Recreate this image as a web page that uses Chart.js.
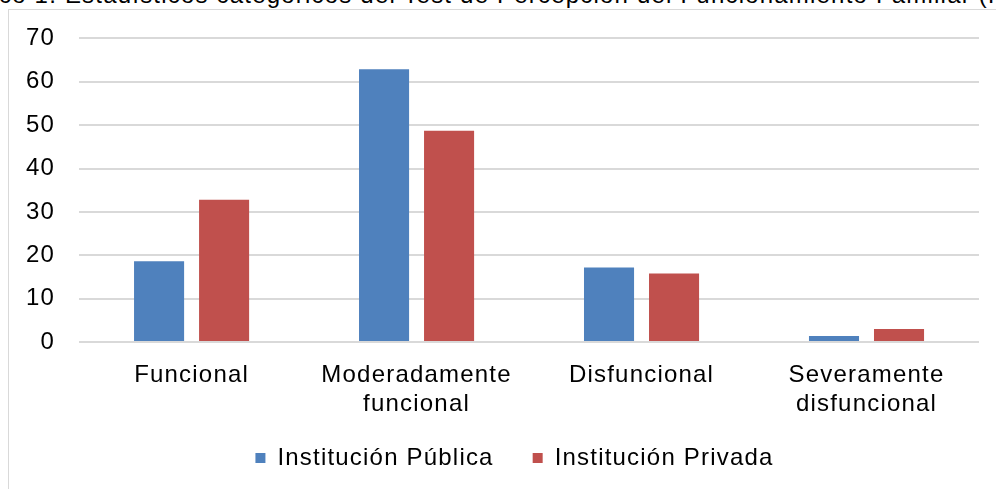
<!DOCTYPE html>
<html>
<head>
<meta charset="utf-8">
<script src="https://cdn.jsdelivr.net/npm/chart.js@4"></script>
<style>
  body { margin: 0; background: #fff; overflow: hidden; }
  #caption {
    position: absolute; left: -59px; top: -17px; white-space: nowrap;
    font: 24px "Liberation Sans", Arial, sans-serif; letter-spacing: 1.2px;
    color: #000; line-height: 24px;
  }
  #frame {
    position: absolute; left: 8px; top: 9px; width: 1000px; height: 500px;
    border: 1px solid #d9d9d9; box-sizing: border-box;
  }
  #wrap { position: absolute; left: 0; top: 0; width: 996px; height: 489px; }
</style>
</head>
<body>
<div id="caption">Gráfico 1. Estadísticos categóricos del Test de Percepción del Funcionamiento Familiar (FF-SIL)</div>
<div id="frame"></div>
<div id="wrap"><canvas id="chart"></canvas></div>
<script>
// categories and values
const categories = ['Funcional', ['Moderadamente', 'funcional'], 'Disfuncional', ['Severamente', 'disfuncional']];
const publica = [18.6, 62.9, 17.2, 1.4];
const privada = [32.8, 48.7, 15.8, 3.0];
const yTicks = [0, 10, 20, 30, 40, 50, 60, 70];

const font = { family: '"Liberation Sans", Arial, sans-serif', size: 24 };

// the reference text is a bit wider than plain Arial, so space the letters out a little
const spacing = {
  id: 'spacing',
  beforeLayout(chart) { chart.ctx.letterSpacing = '1.2px'; },
  beforeDraw(chart) { chart.ctx.letterSpacing = '1.2px'; }
};

// x labels may run down into the legend band; legend sits a bit right of centre
const tweakBoxes = {
  id: 'tweakBoxes',
  afterLayout(chart) {
    chart.scales.x.bottom = chart.height;
    chart.legend.left += 24;
    chart.legend.right += 24;
  }
};

const ctx = document.getElementById('chart').getContext('2d');
new Chart(ctx, {
  type: 'bar',
  data: {
    labels: categories,
    datasets: [
      { label: 'Institución Pública', data: publica, backgroundColor: '#4f81bd' },
      { label: 'Institución Privada', data: privada, backgroundColor: '#c0504d' }
    ]
  },
  options: {
    responsive: true,
    maintainAspectRatio: false,
    animation: false,
    categoryPercentage: 0.578,
    barPercentage: 0.77,
    layout: { padding: { top: 25, right: 17, left: 2, bottom: 9 } },
    plugins: {
      tooltip: { enabled: false },
      legend: {
        position: 'bottom',
        labels: {
          font: font, color: '#000', boxWidth: 10, boxHeight: 10, padding: 39
        }
      }
    },
    scales: {
      x: {
        grid: { display: false },
        border: { display: false },
        ticks: { font: font, color: '#000', padding: 11, maxRotation: 0 },
        afterFit: scale => { scale.height = 65; }
      },
      y: {
        min: 0, max: 70,
        afterBuildTicks: axis => { axis.ticks = yTicks.map(v => ({ value: v })); },
        grid: { color: '#d9d9d9', lineWidth: 2, drawTicks: false },
        border: { display: false },
        ticks: { font: font, color: '#000', padding: 24 }
      }
    }
  },
  plugins: [spacing, tweakBoxes]
});
</script>
</body>
</html>
